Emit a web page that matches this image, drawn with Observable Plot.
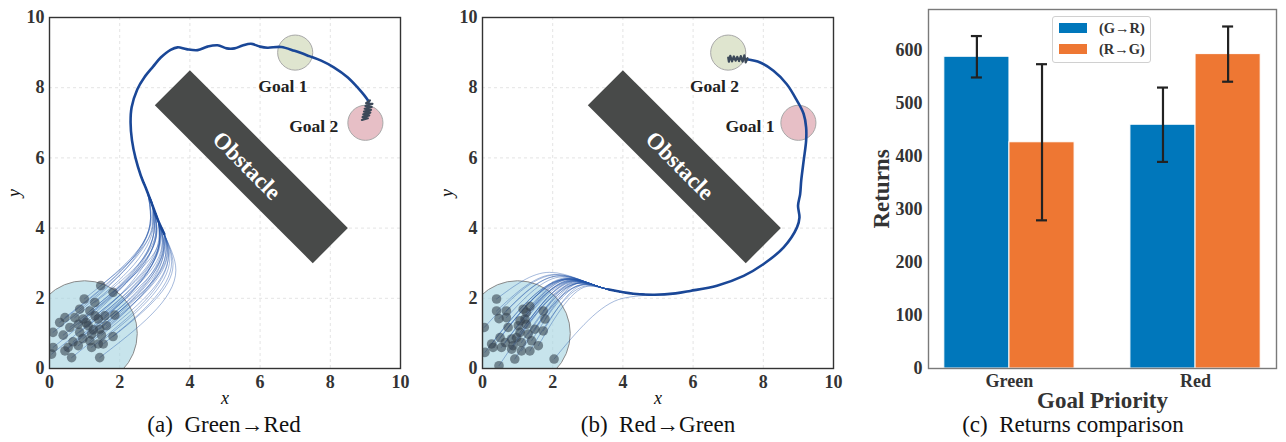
<!DOCTYPE html>
<html><head><meta charset="utf-8">
<script src="https://cdn.jsdelivr.net/npm/d3@7"></script>
<script src="https://cdn.jsdelivr.net/npm/@observablehq/plot@0.6"></script>
<style>
html,body{margin:0;padding:0;background:#fff;}
#root{position:relative;width:1286px;height:442px;overflow:hidden;font-family:"Liberation Serif","Times New Roman",serif;}
.panel{position:absolute;top:0;}
.cap{position:absolute;top:412px;font-size:23px;line-height:26px;color:#111;white-space:pre;transform:translateX(-50%);}
.legend{position:absolute;left:1052px;top:16px;width:97px;height:45px;border:1px solid #d0d0d0;border-radius:3px;background:rgba(255,255,255,0.85);}
.legend .sw{position:absolute;left:6px;width:28px;height:10px;}
.legend .lt{position:absolute;left:46px;font-size:14.5px;font-weight:bold;color:#333;line-height:14px;white-space:nowrap;}
</style></head>
<body><div id="root"></div>
<script>
// ---------- data ----------
const axisTicks = [0, 2, 4, 6, 8, 10];
const gridTicks = [2, 4, 6, 8];
const startCenter = [1, 1];
const startRadius = 1.5;
const goalTop = [7, 9];
const goalRight = [9, 7];
const goalRadius = 0.5;
const obstacleCorners = [[3, 7.5], [4, 8.5], [8.5, 4], [7.5, 3], [3, 7.5]];
const obstacleLabel = [5.62, 5.78];

const goalLabelsA = [{text: "Goal 1", x: 6.65, y: 8.05}, {text: "Goal 2", x: 7.53, y: 6.89}];
const goalLabelsB = [{text: "Goal 2", x: 6.61, y: 8.05}, {text: "Goal 1", x: 7.62, y: 6.89}];

const startsA = [[1.46,2.36],[1.81,2.17],[0.99,1.98],[1.29,1.88],[0.86,1.69],[1.15,1.64],[0.44,1.45],[0.72,1.45],[0.96,1.41],[1.39,1.41],
 [1.86,1.52],[0.58,1.17],[0.82,1.26],[1.10,1.22],[1.43,1.12],[0.10,1.03],[0.39,0.95],[0.86,1.03],[1.20,0.98],[1.48,0.95],
 [1.81,0.91],[0.67,0.76],[1.15,0.79],[1.39,0.70],[0.10,0.60],[0.53,0.60],[0.82,0.65],[1.20,0.60],[1.53,0.70],[0.06,0.41],
 [0.44,0.50],[0.63,0.31],[1.43,0.31],[0.29,1.31],[1.58,1.50],[1.05,1.30],[1.25,1.10],[0.95,0.85],[1.30,1.50],[1.62,1.22]];
const bendsA = [[2.95,4.15],[3.14,3.76],[2.90,4.27],[3.04,3.97],[2.94,4.18],[3.06,3.93],[2.88,4.30],[2.96,4.14],[3.06,3.93],[3.21,3.60],
 [3.35,3.31],[2.99,4.06],[3.05,3.94],[3.17,3.70],[3.32,3.38],[2.88,4.30],[2.99,4.07],[3.14,3.76],[3.28,3.47],[3.39,3.24],
 [3.52,2.96],[3.15,3.74],[3.32,3.39],[3.43,3.15],[2.99,4.07],[3.15,3.74],[3.24,3.55],[3.39,3.23],[3.48,3.04],[3.03,3.98],
 [3.14,3.74],[3.27,3.48],[3.60,2.80],[2.88,4.30],[3.26,3.51],[3.12,3.79],[3.26,3.51],[3.22,3.58],[3.15,3.73],[3.36,3.30]];
const mainA = [[3.27,3.83],[3.1,4.2],[2.95,4.6],[2.78,5.05],[2.6,5.5],[2.45,6.0],[2.35,6.5],[2.31,7.0],[2.34,7.44],
 [2.5,7.95],[2.7,8.29],[2.95,8.6],[3.17,8.86],[3.45,9.08],[3.65,9.15],[3.9,9.1],[4.22,9.07],[4.5,9.17],[4.79,9.21],
 [5.05,9.12],[5.27,9.12],[5.5,9.2],[5.74,9.25],[6.0,9.17],[6.21,9.14],[6.6,9.16],[6.98,9.05],[7.4,8.9],[7.74,8.77],
 [8.1,8.58],[8.5,8.29],[8.8,7.98],[8.97,7.78],[9.1,7.6]];
const endA = [[9.13,7.64],[9.02,7.56],[9.2,7.54],[9.0,7.48],[9.18,7.45],[8.98,7.4],[9.16,7.37],[8.96,7.32],[9.14,7.29],[8.94,7.24],
 [9.11,7.21],[8.92,7.16],[9.07,7.13],[8.9,7.08]];

const startsB = [[0.40,1.98],[0.05,1.17],[0.40,1.64],[0.68,1.64],[0.47,1.42],[0.68,1.45],[1.16,1.69],[1.35,1.77],[1.21,1.41],[1.73,1.64],
 [1.78,1.41],[0.73,1.17],[1.02,1.22],[1.25,1.26],[1.07,1.03],[1.30,0.98],[1.73,1.07],[0.50,0.88],[0.83,0.84],[0.26,0.70],
 [0.87,0.65],[1.11,0.74],[1.40,0.79],[0.30,0.60],[0.54,0.60],[1.11,0.50],[1.35,0.50],[1.59,0.65],[0.07,0.46],[0.92,0.27],
 [2.04,0.27],[0.47,0.08],[0.83,0.55],[0.97,0.88],[1.49,1.12],[0.65,0.74],[1.07,1.36],[1.25,1.60]];
const peaksB = [[1.91,2.74],[2.12,2.67],[2.07,2.68],[2.20,2.64],[2.20,2.64],[2.28,2.61],[2.39,2.58],[2.44,2.56],[2.55,2.52],[2.68,2.48],
 [2.81,2.44],[2.44,2.56],[2.55,2.52],[2.63,2.50],[2.66,2.49],[2.79,2.44],[2.94,2.39],[2.46,2.55],[2.63,2.50],[2.44,2.56],
 [2.74,2.46],[2.81,2.44],[2.92,2.40],[2.50,2.54],[2.61,2.50],[2.92,2.40],[3.03,2.36],[3.07,2.35],[2.46,2.55],[2.94,2.39],
 [4.00,2.00],[2.82,2.43],[2.77,2.45],[2.68,2.48],[2.81,2.44],[2.60,2.51],[2.50,2.54],[2.48,2.55]];
const mainB = [[3.6,2.25],[4.3,2.13],[4.9,2.1],[5.5,2.14],[5.92,2.21],[6.68,2.36],[7.44,2.64],[8.0,2.97],[8.58,3.45],[8.96,4.02],
 [9.03,4.3],[8.99,4.64],[9.05,4.97],[9.08,5.35],[9.15,5.92],[9.22,6.49],[9.22,6.87],[9.15,7.25],[8.96,7.63],[8.67,8.10],
 [8.29,8.48],[7.91,8.72],[7.53,8.81]];
const endB = [[7.55,8.84],[7.5,8.72],[7.46,8.92],[7.41,8.74],[7.36,8.9],[7.31,8.76],[7.26,8.88],[7.21,8.77],[7.16,8.89],[7.11,8.75],
 [7.06,8.91],[7.02,8.74],[7.0,8.86]];

const categories = ["Green", "Red"];
const seriesNames = ["(G\u2192R)", "(R\u2192G)"];
const seriesColors = ["#0077BB", "#EE7733"];
const returnsGR = [587, 459];
const returnsRG = [426, 592];
const errorsGR = [39, 70];
const errorsRG = [147, 52];
const returnTicks = [0, 100, 200, 300, 400, 500, 600];

// ---------- build ----------
const root = document.getElementById("root");
const serif = "'Liberation Serif','Times New Roman',serif";

function place(node, left) {
  const d = document.createElement("div");
  d.className = "panel"; d.style.left = left + "px";
  d.appendChild(node); root.appendChild(d);
}

function trajPlot(starts, fan, fanCurve, main, endPts, goalLabels) {
  const plotW = 351;
  const pxPerUnit = plotW / 10;
  const P = ([x, y]) => ({x, y});
  return Plot.plot({
    width: 49 + plotW + 10, height: 17 + plotW + 52,
    marginLeft: 49, marginRight: 10, marginTop: 17, marginBottom: 52,
    style: {fontFamily: serif, fontSize: "18px", fontWeight: "bold", color: "#333", background: "transparent"},
    x: {domain: [0, 10], ticks: axisTicks, tickSize: 0, tickPadding: 7, label: null},
    y: {domain: [0, 10], ticks: axisTicks, tickSize: 0, tickPadding: 5, label: null},
    marks: [
      Plot.ruleX(gridTicks, {stroke: "#e4e4e4", strokeDasharray: "3,3"}),
      Plot.ruleY(gridTicks, {stroke: "#e4e4e4", strokeDasharray: "3,3"}),
      Plot.dot([P(startCenter)], {x: "x", y: "y", r: startRadius * pxPerUnit, fill: "#a9d6e2", fillOpacity: 0.65, stroke: "#8a8a8a", strokeWidth: 1, clip: true}),
      Plot.dot([P(goalTop)], {x: "x", y: "y", r: goalRadius * pxPerUnit, fill: "#dfe5cf", stroke: "#a8a8a8", strokeWidth: 1}),
      Plot.dot([P(goalRight)], {x: "x", y: "y", r: goalRadius * pxPerUnit, fill: "#e7bfc6", stroke: "#a8a8a8", strokeWidth: 1}),
      Plot.line(obstacleCorners.map(P), {x: "x", y: "y", fill: "#484a49", stroke: "none", curve: "linear-closed"}),
      Plot.text(["Obstacle"], {x: obstacleLabel[0], y: obstacleLabel[1], text: d => d, rotate: 45, fill: "white", fontSize: 23, fontWeight: "bold"}),
      Plot.line(fan, {x: "x", y: "y", z: "id", curve: fanCurve, stroke: "#2255a8", strokeOpacity: 0.45, strokeWidth: 0.9, clip: true}),
      Plot.line(main.map(P), {x: "x", y: "y", curve: "catmull-rom", stroke: "#1a4797", strokeWidth: 2.6}),
      Plot.line(endPts.map(P), {x: "x", y: "y", stroke: "#3b4858", strokeWidth: 2.2}),
      Plot.dot(starts.map(P), {x: "x", y: "y", r: 4.8, fill: "#34404c", fillOpacity: 0.58, stroke: "none", clip: true}),
      Plot.text(goalLabels, {x: "x", y: "y", text: "text", fontSize: 17.5, fill: "#222"}),
      Plot.frame({stroke: "#333", strokeWidth: 1.4}),
      Plot.text(["x"], {frameAnchor: "bottom", lineAnchor: "middle", dy: 30, text: d => d, fontStyle: "italic", fontWeight: "normal", fontSize: 18, fill: "#111"}),
      Plot.text(["y"], {frameAnchor: "left", textAnchor: "middle", dx: -35, rotate: -90, text: d => d, fontStyle: "italic", fontWeight: "normal", fontSize: 18, fill: "#111"})
    ]
  });
}

const fanA = startsA.flatMap((s, i) => {
  const b = bendsA[i];
  const tail = mainA.filter(p => p[1] >= b[1] + 0.35 && p[1] <= 5.5);
  return [s, b, ...tail].map(p => ({id: i, x: p[0], y: p[1]}));
});
const fanB = startsB.flatMap((s, i) => {
  const pk = peaksB[i];
  const tail = mainB.filter(p => p[0] >= pk[0] + 0.35 && p[0] <= 5.0);
  return [s, pk, ...tail].map(p => ({id: i, x: p[0], y: p[1]}));
});

place(trajPlot(startsA, fanA, "monotone-y", mainA, endA, goalLabelsA), 0);
place(trajPlot(startsB, fanB, "monotone-x", mainB, endB, goalLabelsB), 433);

// ---------- panel c ----------
const barWidth = 0.35;
const seriesValues = [returnsGR, returnsRG];
const seriesErrors = [errorsGR, errorsRG];
const bars = categories.flatMap((c, i) => seriesNames.map((s, j) => ({
  category: c, series: s, value: seriesValues[j][i], err: seriesErrors[j][i],
  x1: i - barWidth + j * barWidth, x2: i + j * barWidth, xc: i - barWidth / 2 + j * barWidth
})));
const plotWc = 348, xDomainC = [-0.435, 1.435];
const capHalf = 5.5 / (plotWc / (xDomainC[1] - xDomainC[0]));

const chartC = Plot.plot({
  width: 68 + plotWc + 10, height: 442,
  marginLeft: 68, marginRight: 10, marginTop: 9, marginBottom: 74,
  style: {fontFamily: serif, fontSize: "18px", fontWeight: "bold", color: "#333", background: "transparent"},
  x: {domain: xDomainC, ticks: [0, 1], tickFormat: i => categories[i], tickSize: 0, tickPadding: 6, label: null},
  y: {domain: [0, 676], ticks: returnTicks, tickSize: 0, tickPadding: 6, label: null},
  color: {domain: seriesNames, range: seriesColors},
  marks: [
    Plot.rectY(bars, {x1: "x1", x2: "x2", y1: 0, y2: "value", fill: "series", stroke: "white", strokeWidth: 1}),
    Plot.ruleX(bars, {x: "xc", y1: d => d.value - d.err, y2: d => d.value + d.err, stroke: "#222", strokeWidth: 2.2}),
    Plot.ruleY(bars, {y: d => d.value + d.err, x1: d => d.xc - capHalf, x2: d => d.xc + capHalf, stroke: "#222", strokeWidth: 2.2}),
    Plot.ruleY(bars, {y: d => d.value - d.err, x1: d => d.xc - capHalf, x2: d => d.xc + capHalf, stroke: "#222", strokeWidth: 2.2}),
    Plot.frame({stroke: "#7a7a7a", strokeWidth: 1.4}),
    Plot.text(["Returns"], {frameAnchor: "left", textAnchor: "middle", dx: -47, rotate: -90, text: d => d, fontSize: 23, fill: "#333"}),
    Plot.text(["Goal Priority"], {frameAnchor: "bottom", lineAnchor: "middle", dy: 32, text: d => d, fontSize: 23, fill: "#333"})
  ]
});
place(chartC, 860);

// legend
const lg = document.createElement("div");
lg.className = "legend";
seriesNames.forEach((s, j) => {
  const sw = document.createElement("div");
  sw.className = "sw"; sw.style.top = (6 + j * 21) + "px"; sw.style.background = seriesColors[j];
  const lt = document.createElement("div");
  lt.className = "lt"; lt.style.top = (4 + j * 21) + "px"; lt.textContent = s;
  lg.appendChild(sw); lg.appendChild(lt);
});
root.appendChild(lg);

// captions
const captions = [["(a)  Green\u2192Red", 224], ["(b)  Red\u2192Green", 658], ["(c)  Returns comparison", 1073]];
captions.forEach(([t, cx]) => {
  const d = document.createElement("div");
  d.className = "cap"; d.style.left = cx + "px"; d.textContent = t;
  root.appendChild(d);
});
</script>
</body></html>
